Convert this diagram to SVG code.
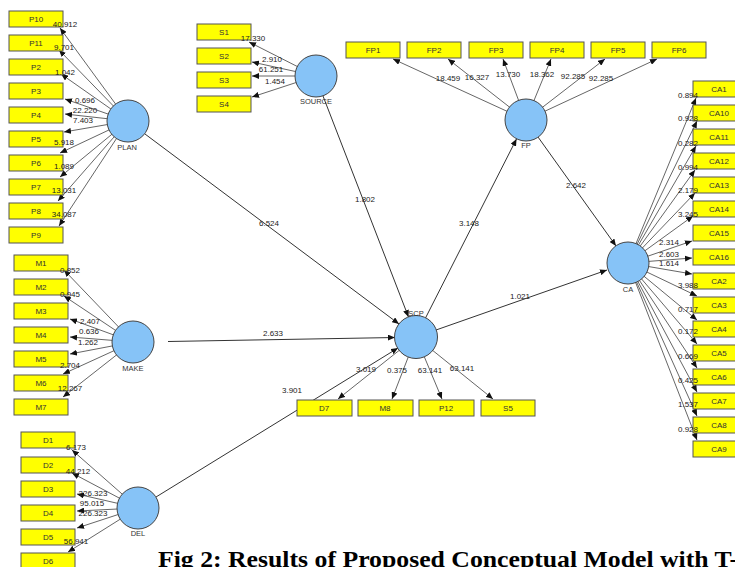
<svg xmlns="http://www.w3.org/2000/svg" width="735" height="567" viewBox="0 0 735 567">
<style>
.bg{fill:#ffffff}
.box{fill:#ffff00;stroke:#555555;stroke-width:1}
.lv{fill:#86c3f7;stroke:#444444;stroke-width:1}
.bl{font-family:"Liberation Sans",Arial,sans-serif;font-size:8px;fill:#333333;text-anchor:middle}
.nl{font-family:"Liberation Sans",Arial,sans-serif;font-size:7.5px;fill:#333333;text-anchor:middle}
.vl{font-family:"Liberation Sans",Arial,sans-serif;font-size:8px;fill:#222222;text-anchor:middle}
.ind{stroke:#555555;stroke-width:0.9;fill:none;marker-end:url(#ah)}
.str{stroke:#333333;stroke-width:1;fill:none;marker-end:url(#ah)}
.cap{font-family:"Liberation Serif","Times New Roman",serif;font-size:24px;font-weight:bold;fill:#000000}
</style>
<defs>
<marker id="ah" markerWidth="7" markerHeight="6" refX="7" refY="3" orient="auto" markerUnits="userSpaceOnUse">
<path d="M0,0 L7,3 L0,6 z" fill="#111111"/>
</marker>
</defs>
<rect class="bg" x="0" y="0" width="735" height="567"/>
<g id="connectors">
<line class="ind" x1="128" y1="121" x2="60" y2="28"/>
<line class="ind" x1="128" y1="121" x2="59" y2="50"/>
<line class="ind" x1="128" y1="121" x2="61" y2="74"/>
<line class="ind" x1="128" y1="121" x2="65" y2="99"/>
<line class="ind" x1="128" y1="121" x2="65" y2="114"/>
<line class="ind" x1="128" y1="121" x2="64" y2="132"/>
<line class="ind" x1="128" y1="121" x2="60" y2="153"/>
<line class="ind" x1="128" y1="121" x2="60" y2="177"/>
<line class="ind" x1="128" y1="121" x2="58" y2="201"/>
<line class="ind" x1="128" y1="121" x2="59" y2="226"/>
<line class="ind" x1="316" y1="76" x2="249" y2="42"/>
<line class="ind" x1="316" y1="76" x2="252" y2="62"/>
<line class="ind" x1="316" y1="76" x2="252" y2="76"/>
<line class="ind" x1="316" y1="76" x2="252" y2="97"/>
<line class="ind" x1="526" y1="120" x2="393" y2="59"/>
<line class="ind" x1="526" y1="120" x2="448" y2="59"/>
<line class="ind" x1="526" y1="120" x2="503" y2="59"/>
<line class="ind" x1="526" y1="120" x2="551" y2="59"/>
<line class="ind" x1="526" y1="120" x2="605" y2="59"/>
<line class="ind" x1="526" y1="120" x2="657" y2="59"/>
<line class="ind" x1="628" y1="263" x2="696" y2="98"/>
<line class="ind" x1="628" y1="263" x2="697" y2="121"/>
<line class="ind" x1="628" y1="263" x2="696" y2="146"/>
<line class="ind" x1="628" y1="263" x2="695" y2="170"/>
<line class="ind" x1="628" y1="263" x2="695" y2="193"/>
<line class="ind" x1="628" y1="263" x2="693" y2="216"/>
<line class="ind" x1="628" y1="263" x2="692" y2="241"/>
<line class="ind" x1="628" y1="263" x2="692" y2="258"/>
<line class="ind" x1="628" y1="263" x2="692" y2="274"/>
<line class="ind" x1="628" y1="263" x2="697" y2="296"/>
<line class="ind" x1="628" y1="263" x2="697" y2="320"/>
<line class="ind" x1="628" y1="263" x2="697" y2="344"/>
<line class="ind" x1="628" y1="263" x2="697" y2="368"/>
<line class="ind" x1="628" y1="263" x2="697" y2="392"/>
<line class="ind" x1="628" y1="263" x2="697" y2="416"/>
<line class="ind" x1="628" y1="263" x2="697" y2="440"/>
<line class="ind" x1="133" y1="342" x2="64" y2="270"/>
<line class="ind" x1="133" y1="342" x2="64" y2="296"/>
<line class="ind" x1="133" y1="342" x2="70" y2="319"/>
<line class="ind" x1="133" y1="342" x2="70" y2="337"/>
<line class="ind" x1="133" y1="342" x2="70" y2="354"/>
<line class="ind" x1="133" y1="342" x2="63" y2="374"/>
<line class="ind" x1="133" y1="342" x2="63" y2="397"/>
<line class="ind" x1="138" y1="508" x2="72" y2="450"/>
<line class="ind" x1="138" y1="508" x2="72" y2="473"/>
<line class="ind" x1="138" y1="508" x2="77" y2="494"/>
<line class="ind" x1="138" y1="508" x2="77" y2="511"/>
<line class="ind" x1="138" y1="508" x2="77" y2="528"/>
<line class="ind" x1="138" y1="508" x2="68" y2="552"/>
<line class="ind" x1="416" y1="337" x2="338" y2="399"/>
<line class="ind" x1="416" y1="337" x2="392" y2="399"/>
<line class="ind" x1="416" y1="337" x2="442" y2="399"/>
<line class="ind" x1="416" y1="337" x2="493" y2="399"/>
<line class="str" x1="145" y1="134" x2="399" y2="324"/>
<line class="str" x1="323" y1="96" x2="408.5" y2="317"/>
<line class="str" x1="425.5" y1="318" x2="516.5" y2="139"/>
<line class="str" x1="538" y1="137" x2="616" y2="246"/>
<line class="str" x1="436" y1="330" x2="607" y2="270"/>
<line class="str" x1="168" y1="341.5" x2="395" y2="337.5"/>
<line class="str" x1="156" y1="497" x2="398" y2="348"/>
</g>
<g id="PLAN">
<circle class="lv" cx="128" cy="121" r="21"/>
<text class="nl" x="127" y="150">PLAN</text>
</g>
<g id="SOURCE">
<circle class="lv" cx="316" cy="76" r="21"/>
<text class="nl" x="316" y="104">SOURCE</text>
</g>
<g id="FP">
<circle class="lv" cx="526" cy="120" r="21"/>
<text class="nl" x="526" y="148">FP</text>
</g>
<g id="CA">
<circle class="lv" cx="628" cy="263" r="21"/>
<text class="nl" x="628" y="292">CA</text>
</g>
<g id="SCP">
<circle class="lv" cx="416" cy="337" r="21.5"/>
<text class="nl" x="416" y="316">SCP</text>
</g>
<g id="MAKE">
<circle class="lv" cx="133" cy="342" r="21"/>
<text class="nl" x="133" y="371">MAKE</text>
</g>
<g id="DEL">
<circle class="lv" cx="138" cy="508" r="21"/>
<text class="nl" x="138" y="536">DEL</text>
</g>
<g id="P10"><rect class="box" x="9" y="11" width="54" height="16"/><text class="bl" x="36" y="22">P10</text></g>
<g id="P11"><rect class="box" x="9" y="35" width="54" height="16"/><text class="bl" x="36" y="46">P11</text></g>
<g id="P2"><rect class="box" x="9" y="59" width="54" height="16"/><text class="bl" x="36" y="70">P2</text></g>
<g id="P3"><rect class="box" x="9" y="83" width="54" height="16"/><text class="bl" x="36" y="94">P3</text></g>
<g id="P4"><rect class="box" x="9" y="107" width="54" height="16"/><text class="bl" x="36" y="118">P4</text></g>
<g id="P5"><rect class="box" x="9" y="131" width="54" height="16"/><text class="bl" x="36" y="142">P5</text></g>
<g id="P6"><rect class="box" x="9" y="155" width="54" height="16"/><text class="bl" x="36" y="166">P6</text></g>
<g id="P7"><rect class="box" x="9" y="179" width="54" height="16"/><text class="bl" x="36" y="190">P7</text></g>
<g id="P8"><rect class="box" x="9" y="203" width="54" height="16"/><text class="bl" x="36" y="214">P8</text></g>
<g id="P9"><rect class="box" x="9" y="227" width="54" height="16"/><text class="bl" x="36" y="238">P9</text></g>
<g id="S1"><rect class="box" x="197" y="24" width="54" height="16"/><text class="bl" x="224" y="35">S1</text></g>
<g id="S2"><rect class="box" x="197" y="48" width="54" height="16"/><text class="bl" x="224" y="59">S2</text></g>
<g id="S3"><rect class="box" x="197" y="72" width="54" height="16"/><text class="bl" x="224" y="83">S3</text></g>
<g id="S4"><rect class="box" x="197" y="96" width="54" height="16"/><text class="bl" x="224" y="107">S4</text></g>
<g id="FP1"><rect class="box" x="346" y="42" width="54" height="16"/><text class="bl" x="373" y="53">FP1</text></g>
<g id="FP2"><rect class="box" x="407" y="42" width="54" height="16"/><text class="bl" x="434" y="53">FP2</text></g>
<g id="FP3"><rect class="box" x="469" y="42" width="54" height="16"/><text class="bl" x="496" y="53">FP3</text></g>
<g id="FP4"><rect class="box" x="530" y="42" width="54" height="16"/><text class="bl" x="557" y="53">FP4</text></g>
<g id="FP5"><rect class="box" x="591" y="42" width="54" height="16"/><text class="bl" x="618" y="53">FP5</text></g>
<g id="FP6"><rect class="box" x="652" y="42" width="54" height="16"/><text class="bl" x="679" y="53">FP6</text></g>
<g id="CA1"><rect class="box" x="693" y="81" width="54" height="16"/><text class="bl" x="719" y="92">CA1</text></g>
<g id="CA10"><rect class="box" x="693" y="105" width="54" height="16"/><text class="bl" x="719" y="116">CA10</text></g>
<g id="CA11"><rect class="box" x="693" y="129" width="54" height="16"/><text class="bl" x="719" y="140">CA11</text></g>
<g id="CA12"><rect class="box" x="693" y="153" width="54" height="16"/><text class="bl" x="719" y="164">CA12</text></g>
<g id="CA13"><rect class="box" x="693" y="177" width="54" height="16"/><text class="bl" x="719" y="188">CA13</text></g>
<g id="CA14"><rect class="box" x="693" y="201" width="54" height="16"/><text class="bl" x="719" y="212">CA14</text></g>
<g id="CA15"><rect class="box" x="693" y="225" width="54" height="16"/><text class="bl" x="719" y="236">CA15</text></g>
<g id="CA16"><rect class="box" x="693" y="249" width="54" height="16"/><text class="bl" x="719" y="260">CA16</text></g>
<g id="CA2"><rect class="box" x="693" y="273" width="54" height="16"/><text class="bl" x="719" y="284">CA2</text></g>
<g id="CA3"><rect class="box" x="693" y="297" width="54" height="16"/><text class="bl" x="719" y="308">CA3</text></g>
<g id="CA4"><rect class="box" x="693" y="321" width="54" height="16"/><text class="bl" x="719" y="332">CA4</text></g>
<g id="CA5"><rect class="box" x="693" y="345" width="54" height="16"/><text class="bl" x="719" y="356">CA5</text></g>
<g id="CA6"><rect class="box" x="693" y="369" width="54" height="16"/><text class="bl" x="719" y="380">CA6</text></g>
<g id="CA7"><rect class="box" x="693" y="393" width="54" height="16"/><text class="bl" x="719" y="404">CA7</text></g>
<g id="CA8"><rect class="box" x="693" y="417" width="54" height="16"/><text class="bl" x="719" y="428">CA8</text></g>
<g id="CA9"><rect class="box" x="693" y="441" width="54" height="16"/><text class="bl" x="719" y="452">CA9</text></g>
<g id="M1"><rect class="box" x="14" y="255" width="54" height="16"/><text class="bl" x="41" y="266">M1</text></g>
<g id="M2"><rect class="box" x="14" y="279" width="54" height="16"/><text class="bl" x="41" y="290">M2</text></g>
<g id="M3"><rect class="box" x="14" y="303" width="54" height="16"/><text class="bl" x="41" y="314">M3</text></g>
<g id="M4"><rect class="box" x="14" y="327" width="54" height="16"/><text class="bl" x="41" y="338">M4</text></g>
<g id="M5"><rect class="box" x="14" y="351" width="54" height="16"/><text class="bl" x="41" y="362">M5</text></g>
<g id="M6"><rect class="box" x="14" y="375" width="54" height="16"/><text class="bl" x="41" y="386">M6</text></g>
<g id="M7"><rect class="box" x="14" y="399" width="54" height="16"/><text class="bl" x="41" y="410">M7</text></g>
<g id="D1"><rect class="box" x="21" y="432" width="54" height="16"/><text class="bl" x="48" y="443">D1</text></g>
<g id="D2"><rect class="box" x="21" y="457" width="54" height="16"/><text class="bl" x="48" y="468">D2</text></g>
<g id="D3"><rect class="box" x="21" y="481" width="54" height="16"/><text class="bl" x="48" y="492">D3</text></g>
<g id="D4"><rect class="box" x="21" y="505" width="54" height="16"/><text class="bl" x="48" y="516">D4</text></g>
<g id="D5"><rect class="box" x="21" y="529" width="54" height="16"/><text class="bl" x="48" y="540">D5</text></g>
<g id="D6"><rect class="box" x="21" y="553" width="54" height="16"/><text class="bl" x="48" y="564">D6</text></g>
<g id="D7"><rect class="box" x="297" y="400" width="55" height="16"/><text class="bl" x="324" y="411">D7</text></g>
<g id="M8"><rect class="box" x="358" y="400" width="55" height="16"/><text class="bl" x="385" y="411">M8</text></g>
<g id="P12"><rect class="box" x="419" y="400" width="55" height="16"/><text class="bl" x="446" y="411">P12</text></g>
<g id="S5"><rect class="box" x="481" y="400" width="54" height="16"/><text class="bl" x="508" y="411">S5</text></g>
<g id="connector-labels">
<text class="vl" x="65" y="27">40.912</text>
<text class="vl" x="64" y="50">9.701</text>
<text class="vl" x="65" y="75">1.042</text>
<text class="vl" x="85" y="103">0.696</text>
<text class="vl" x="85" y="113">22.220</text>
<text class="vl" x="83" y="123">7.403</text>
<text class="vl" x="64" y="145">5.918</text>
<text class="vl" x="64" y="169">1.089</text>
<text class="vl" x="64" y="193">13.031</text>
<text class="vl" x="64" y="217">34.087</text>
<text class="vl" x="253" y="41">17.330</text>
<text class="vl" x="272" y="62">2.910</text>
<text class="vl" x="271" y="72">61.251</text>
<text class="vl" x="275" y="84">1.454</text>
<text class="vl" x="448" y="81">18.459</text>
<text class="vl" x="477" y="80">16.327</text>
<text class="vl" x="508" y="77">13.730</text>
<text class="vl" x="542" y="77">18.362</text>
<text class="vl" x="573" y="79">92.285</text>
<text class="vl" x="601" y="81">92.285</text>
<text class="vl" x="688" y="98">0.894</text>
<text class="vl" x="688" y="121">0.928</text>
<text class="vl" x="688" y="146">0.282</text>
<text class="vl" x="688" y="170">0.994</text>
<text class="vl" x="688" y="193">2.179</text>
<text class="vl" x="688" y="217">3.245</text>
<text class="vl" x="669" y="245">2.314</text>
<text class="vl" x="669" y="257">2.603</text>
<text class="vl" x="669" y="266">1.614</text>
<text class="vl" x="688" y="288">3.988</text>
<text class="vl" x="688" y="312">0.717</text>
<text class="vl" x="688" y="334">0.172</text>
<text class="vl" x="688" y="359">0.669</text>
<text class="vl" x="688" y="383">0.425</text>
<text class="vl" x="688" y="407">1.537</text>
<text class="vl" x="688" y="432">0.928</text>
<text class="vl" x="70" y="273">0.852</text>
<text class="vl" x="70" y="297">0.945</text>
<text class="vl" x="90" y="324">2.407</text>
<text class="vl" x="89" y="334">0.636</text>
<text class="vl" x="88" y="345">1.262</text>
<text class="vl" x="70" y="368">2.704</text>
<text class="vl" x="70" y="391">12.267</text>
<text class="vl" x="76" y="450">6.173</text>
<text class="vl" x="78" y="474">44.212</text>
<text class="vl" x="93" y="496">226.323</text>
<text class="vl" x="92" y="506">95.015</text>
<text class="vl" x="93" y="516">226.323</text>
<text class="vl" x="76" y="544">56.941</text>
<text class="vl" x="366" y="372">3.019</text>
<text class="vl" x="397" y="373">0.375</text>
<text class="vl" x="430" y="373">63.141</text>
<text class="vl" x="462" y="371">63.141</text>
<text class="vl" x="269" y="226">6.524</text>
<text class="vl" x="365" y="202">1.802</text>
<text class="vl" x="469" y="226">3.148</text>
<text class="vl" x="576" y="188">2.642</text>
<text class="vl" x="520" y="299">1.021</text>
<text class="vl" x="273" y="336">2.633</text>
<text class="vl" x="292" y="393">3.901</text>
</g>
<text class="cap" x="158" y="567" textLength="580" lengthAdjust="spacingAndGlyphs">Fig 2: Results of Proposed Conceptual Model with T-</text>
</svg>
